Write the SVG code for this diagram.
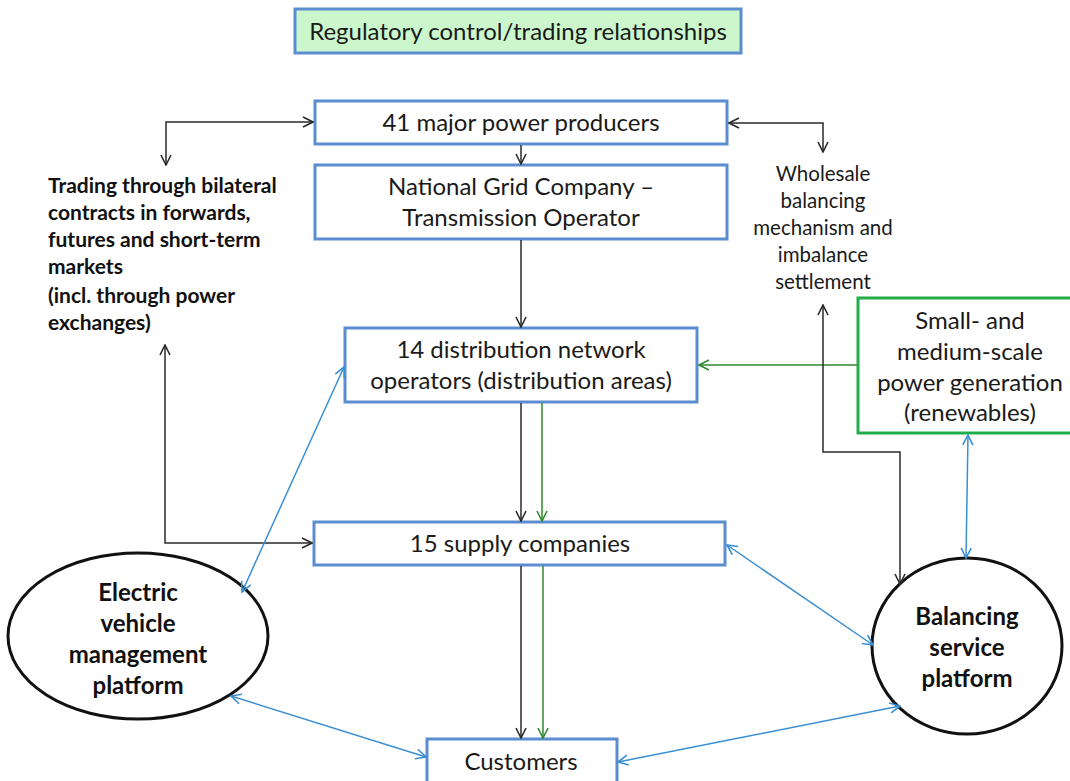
<svg xmlns="http://www.w3.org/2000/svg" width="1070" height="781" viewBox="0 0 1070 781">
<style>
.box{fill:#fff;stroke:#5b8dd0;stroke-width:3}
.t{font-family:Lato,"Liberation Sans",sans-serif;font-size:24px;fill:#1a1a1a;text-anchor:middle}
.tb{font-family:Lato,"Liberation Sans",sans-serif;font-size:21px;font-weight:bold;fill:#111}
.tw{font-family:Lato,"Liberation Sans",sans-serif;font-size:20.5px;fill:#1a1a1a;text-anchor:middle}
.te{font-family:Lato,"Liberation Sans",sans-serif;font-size:24px;font-weight:bold;fill:#111;text-anchor:middle}
.ck{fill:none;stroke:#2a2a2a;stroke-width:1.5;marker-end:url(#ak)}
.cg{fill:none;stroke:#2e8b2e;stroke-width:1.5;marker-end:url(#ag)}
.cb{fill:none;stroke:#3a8fd3;stroke-width:1.5;marker-start:url(#ab);marker-end:url(#ab)}
.ck2{marker-start:url(#ak)}
</style>
<defs>
<marker id="ak" viewBox="0 0 12 12" refX="11" refY="6" markerWidth="12" markerHeight="12" markerUnits="userSpaceOnUse" orient="auto-start-reverse"><path d="M1,1 L11,6 L1,11" fill="none" stroke="#2a2a2a" stroke-width="1.6"/></marker>
<marker id="ag" viewBox="0 0 12 12" refX="11" refY="6" markerWidth="12" markerHeight="12" markerUnits="userSpaceOnUse" orient="auto-start-reverse"><path d="M1,1 L11,6 L1,11" fill="none" stroke="#2e8b2e" stroke-width="1.6"/></marker>
<marker id="ab" viewBox="0 0 12 12" refX="11" refY="6" markerWidth="12" markerHeight="12" markerUnits="userSpaceOnUse" orient="auto-start-reverse"><path d="M1,1 L11,6 L1,11" fill="none" stroke="#3a8fd3" stroke-width="1.6"/></marker>
</defs>
<rect width="1070" height="781" fill="#fff"/>

<g id="title">
<rect x="295" y="9" width="446" height="44" fill="#ccf7cc" stroke="#5b8dd0" stroke-width="3"/>
<text class="t" x="518" y="40">Regulatory control/trading relationships</text>
</g>

<g id="producers">
<rect class="box" x="315" y="101" width="412" height="43"/>
<text class="t" x="521" y="131">41 major power producers</text>
</g>

<g id="national-grid">
<rect class="box" x="315" y="165" width="412" height="74"/>
<text class="t" x="521" y="195">National Grid Company –</text>
<text class="t" x="521" y="226">Transmission Operator</text>
</g>

<g id="distribution">
<rect class="box" x="345" y="328" width="352" height="74"/>
<text class="t" x="521" y="358">14 distribution network</text>
<text class="t" x="521" y="389">operators (distribution areas)</text>
</g>

<g id="supply">
<rect class="box" x="314" y="522" width="411" height="43"/>
<text class="t" x="520" y="552">15 supply companies</text>
</g>

<g id="customers">
<rect class="box" x="427" y="739" width="190" height="50"/>
<text class="t" x="521" y="770">Customers</text>
</g>

<g id="renewables">
<rect x="858" y="298" width="222" height="135" fill="#fff" stroke="#22ad4a" stroke-width="3"/>
<text class="t" x="970" y="329">Small- and</text>
<text class="t" x="970" y="360">medium-scale</text>
<text class="t" x="970" y="391">power generation</text>
<text class="t" x="970" y="421">(renewables)</text>
</g>

<g id="trading">
<text class="tb" x="48" y="193">Trading through bilateral</text>
<text class="tb" x="48" y="220">contracts in forwards,</text>
<text class="tb" x="48" y="247">futures and short-term</text>
<text class="tb" x="48" y="274">markets</text>
<text class="tb" x="48" y="303">(incl. through power</text>
<text class="tb" x="48" y="330">exchanges)</text>
</g>

<g id="wholesale">
<text class="tw" x="823" y="181">Wholesale</text>
<text class="tw" x="823" y="208">balancing</text>
<text class="tw" x="823" y="235">mechanism and</text>
<text class="tw" x="823" y="262">imbalance</text>
<text class="tw" x="823" y="289">settlement</text>
</g>

<g id="ev-platform">
<ellipse cx="138" cy="636" rx="130" ry="83" fill="#fff" stroke="#111" stroke-width="3"/>
<text class="te" x="138" y="601">Electric</text>
<text class="te" x="138" y="632">vehicle</text>
<text class="te" x="138" y="663">management</text>
<text class="te" x="138" y="694">platform</text>
</g>

<g id="balancing-platform">
<ellipse cx="967" cy="646" rx="95" ry="88" fill="#fff" stroke="#111" stroke-width="3"/>
<text class="te" x="967" y="625">Balancing</text>
<text class="te" x="967" y="656">service</text>
<text class="te" x="967" y="687">platform</text>
</g>

<g id="connectors">
<path class="ck ck2" d="M166,165 L166,122 L313,122"/>
<path class="ck ck2" d="M729,123 L823,123 L823,152"/>
<path class="ck" d="M521,145 L521,164"/>
<path class="ck" d="M521,240 L521,327"/>
<path class="ck" d="M521,403 L521,521"/>
<path class="cg" d="M542,403 L542,521"/>
<path class="ck" d="M521,566 L521,738"/>
<path class="cg" d="M543,566 L543,738"/>
<path class="cg" d="M857,365 L699,365"/>
<path class="ck ck2" d="M165,345 L165,543 L312,543"/>
<path class="ck ck2" d="M823,305 L823,452 L900,452 L900,584"/>
<path class="cb" d="M968,435 L966,558"/>
<path class="cb" d="M344,367 L242,592"/>
<path class="cb" d="M727,545 L873,645"/>
<path class="cb" d="M231,696 L426,757"/>
<path class="cb" d="M618,762 L900,706"/>
</g>
</svg>
